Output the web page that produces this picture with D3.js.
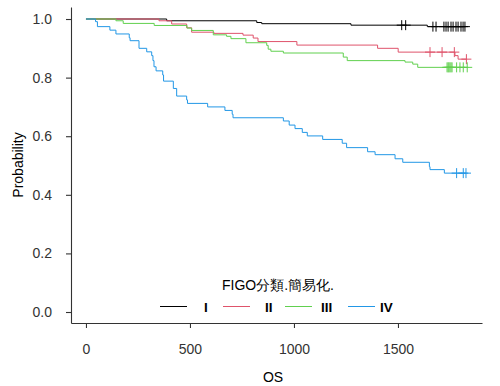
<!DOCTYPE html>
<html>
<head>
<meta charset="utf-8">
<script src="https://cdn.jsdelivr.net/npm/d3@7"></script>
<style>
  body { margin: 0; background: white; }
  text { font-family: "Liberation Sans", Arial, sans-serif; }
</style>
</head>
<body>
<div id="chart"></div>
<script>
// survival steps
const groups = ["I", "II", "III", "IV"];
const colors = ["#000000", "#DF536B", "#61D04F", "#2297E6"];

const timesI = [0, 388, 821, 845, 1274, 1641];
const survI = [1, 0.994, 0.988, 0.984, 0.979, 0.974];
const censorI = [1518, 1537, 1668, 1683, 1721, 1731, 1741, 1755, 1765, 1779, 1789, 1803, 1813, 1822];

const timesII = [0, 351, 412, 484, 508, 615, 755, 804, 827, 1014, 1402, 1501, 1774, 1789];
const survII = [1, 0.994, 0.983, 0.970, 0.955, 0.951, 0.945, 0.935, 0.923, 0.911, 0.900, 0.887, 0.875, 0.863];
const censorII = [1654, 1712, 1771, 1829];

const timesIII = [0, 144, 179, 328, 486, 508, 612, 676, 697, 769, 869, 876, 889, 949, 1237, 1256, 1534, 1571, 1595];
const survIII = [1, 0.994, 0.985, 0.978, 0.969, 0.961, 0.946, 0.941, 0.933, 0.919, 0.910, 0.897, 0.890, 0.884, 0.870, 0.858, 0.853, 0.846, 0.835];
const censorIII = [1736, 1741, 1745, 1750, 1755, 1760, 1782, 1798, 1814, 1833];

const timesIV = [0, 46, 55, 115, 144, 208, 212, 255, 292, 316, 322, 327, 337, 369, 373, 420, 436, 484, 488, 585,
  668, 703, 707, 949, 977, 1005, 1040, 1064, 1138, 1232, 1253, 1354, 1390, 1486, 1523, 1651, 1654, 1723];
const survIV = [1, 0.991, 0.974, 0.962, 0.949, 0.936, 0.926, 0.900, 0.888, 0.875, 0.858, 0.837, 0.823, 0.809, 0.788, 0.763, 0.737, 0.724, 0.712, 0.700,
  0.688, 0.675, 0.663, 0.652, 0.638, 0.626, 0.613, 0.601, 0.589, 0.576, 0.561, 0.547, 0.537, 0.523, 0.511, 0.496, 0.486, 0.474];
const censorIV = [1782, 1814, 1827];

const xTicks = [0, 500, 1000, 1500];
const yTicks = [0, 0.2, 0.4, 0.6, 0.8, 1.0];

const allTimes = [timesI, timesII, timesIII, timesIV];
const allSurv = [survI, survII, survIII, survIV];
const allCensor = [censorI, censorII, censorIII, censorIV];

const width = 500, height = 386;

let svg = d3.select("#chart")
  .append("svg")
  .attr("width", width)
  .attr("height", height);

// scales (panel spans x 71..482, y 7..323)
var xScale = d3.scaleLinear().domain([-72, 1904]).range([71, 482]);
var yScale = d3.scaleLinear().domain([-0.0375, 1.041]).range([323, 7]);

// axes
let xAxis = svg.append("g")
  .attr("transform", "translate(0,323)")
  .call(d3.axisBottom(xScale).tickValues(xTicks).tickSize(5).tickSizeOuter(0).tickPadding(16).tickFormat(d3.format("d")));
let yAxis = svg.append("g")
  .attr("transform", "translate(71,0)")
  .call(d3.axisLeft(yScale).tickValues(yTicks).tickSize(5).tickSizeOuter(0).tickPadding(14).tickFormat(d3.format(".1f")));

[xAxis, yAxis].forEach(a => {
  a.select(".domain").attr("stroke", "#333").attr("stroke-width", 1.1);
  a.selectAll(".tick line").attr("stroke", "#333").attr("stroke-width", 1.1);
  a.selectAll(".tick text").attr("fill", "#333").style("font-size", "14px");
});

// axis titles
svg.append("text")
  .attr("x", 273).attr("y", 382)
  .attr("text-anchor", "middle")
  .style("font-size", "14px")
  .attr("fill", "#000")
  .text("OS");
svg.append("text")
  .attr("transform", "translate(23,165) rotate(-90)")
  .attr("text-anchor", "middle")
  .style("font-size", "14px")
  .attr("fill", "#000")
  .text("Probability");

// step lines
var line = d3.line()
  .x(d => xScale(d[0]))
  .y(d => yScale(d[1]))
  .curve(d3.curveStepAfter);

function survAt(times, surv, t) {
  var i = d3.bisectRight(times, t) - 1;
  return surv[Math.max(i, 0)];
}

groups.forEach(function(g, k) {
  var times = allTimes[k], surv = allSurv[k], cens = allCensor[k];
  var pts = times.map((t, i) => [t, surv[i]]);
  var tEnd = d3.max([times[times.length - 1], d3.max(cens)]);
  pts.push([tEnd, surv[surv.length - 1]]);

  svg.append("path")
    .datum(pts)
    .attr("fill", "none")
    .attr("stroke", colors[k])
    .attr("stroke-width", 1)
    .attr("d", line);

  // censor marks (+)
  svg.append("g").selectAll("path")
    .data(cens)
    .join("path")
    .attr("d", function(t) {
      var cx = xScale(t), cy = yScale(survAt(times, surv, t));
      return "M" + (cx - 5) + "," + cy + "H" + (cx + 5) + "M" + cx + "," + (cy - 5) + "V" + (cy + 5);
    })
    .attr("stroke", colors[k])
    .attr("stroke-width", 1)
    .attr("fill", "none");
});

// legend
svg.append("text")
  .attr("x", 222).attr("y", 290)
  .style("font-size", "14px")
  .attr("fill", "#000")
  .text("FIGO分類.簡易化.");

var legendKeys = [[160, 204], [223, 265], [285, 321], [348, 380]];
groups.forEach(function(g, k) {
  var lx = legendKeys[k][0], tx = legendKeys[k][1];
  svg.append("line")
    .attr("x1", lx).attr("x2", lx + 27)
    .attr("y1", 306.5).attr("y2", 306.5)
    .attr("stroke", colors[k])
    .attr("stroke-width", 1);
  svg.append("text")
    .attr("x", tx).attr("y", 311.5)
    .style("font-size", "13.5px")
    .style("font-weight", "bold")
    .attr("fill", "#000")
    .text(g);
});
</script>
</body>
</html>
